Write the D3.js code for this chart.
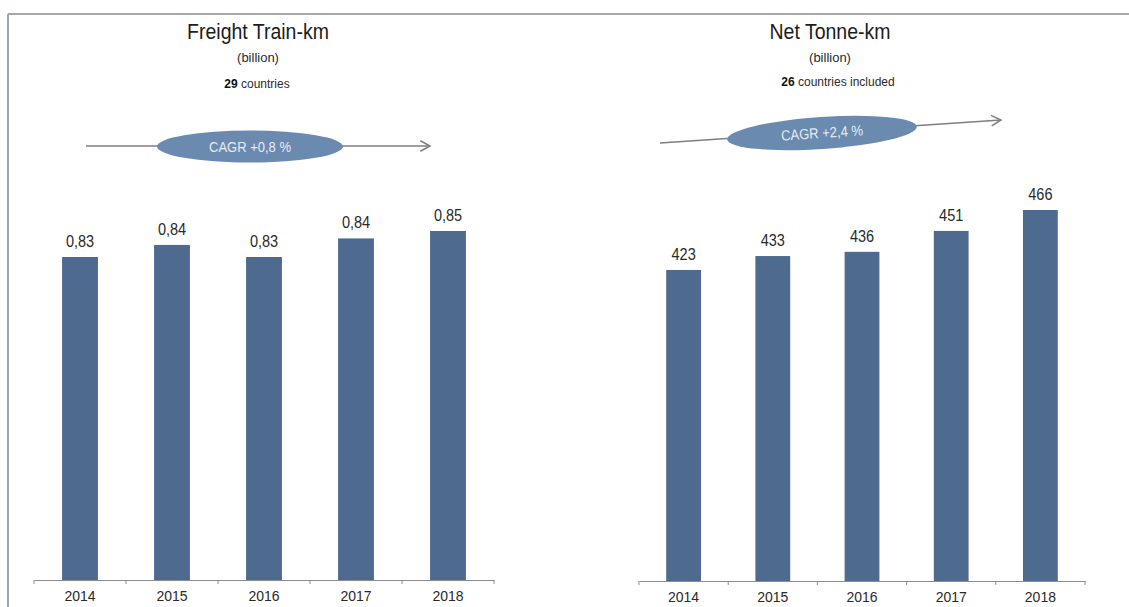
<!DOCTYPE html>
<html>
<head>
<meta charset="utf-8">
<script src="https://cdn.jsdelivr.net/npm/d3@7"></script>
<style>
  html, body { margin: 0; padding: 0; background: #ffffff; }
  svg { display: block; }
  text { font-family: "Liberation Sans", Arial, sans-serif; }
</style>
</head>
<body>
<svg id="chart" width="1129" height="607"></svg>
<script>
// Yearly freight figures, two panels
const years = ["2014", "2015", "2016", "2017", "2018"];
const trainKm = [0.834, 0.8405, 0.834, 0.844, 0.848];   // billion freight train-km
const tonneKm = [423, 433, 436, 451, 466];              // billion net tonne-km
const panelTitles = ["Freight Train-km", "Net Tonne-km"];
const panelUnits = ["(billion)", "(billion)"];
const countryCounts = ["29", "26"];
const countryNotes = [" countries", " countries included"];
const cagrLabels = ["CAGR +0,8 %", "CAGR +2,4 %"];

const svg = d3.select("#chart");
const BAR = "#4e6b8f";
const ELLIPSE = "#6b8ab0";
const AXIS = "#8c8c8c";
const TEXT = "#2a2a2a";
const STRETCH = 1.13;

const commaFmt = d3.formatLocale({ decimal: ",", thousands: ".", grouping: [3], currency: ["", ""] });
const fmt2 = commaFmt.format(".2f");
const fmt0 = commaFmt.format(".0f");

// text drawn slightly taller than wide, like the source typeface
function label(g, x, y, str, size, opts = {}) {
  const t = g.append("text")
    .attr("transform", `translate(${x},${y}) scale(1,${opts.stretch || STRETCH})`)
    .attr("text-anchor", opts.anchor || "middle")
    .attr("font-size", size)
    .attr("fill", opts.fill || TEXT)
    .attr("font-weight", opts.weight || "normal")
    .text(str);
  return t;
}

// frame lines
svg.append("line").attr("x1", 8).attr("x2", 1129).attr("y1", 14).attr("y2", 14)
  .attr("stroke", "#a3a7ae").attr("stroke-width", 2);
svg.append("line").attr("x1", 8).attr("x2", 8).attr("y1", 14).attr("y2", 607)
  .attr("stroke", "#97a5bb").attr("stroke-width", 2);

function panel(cfg) {
  const g = svg.append("g");
  const x = d3.scaleBand().domain(years).range(cfg.xRange).padding(0);
  const y = d3.scaleLinear().domain([cfg.yMin, d3.max(cfg.values)]).range([cfg.base, cfg.topY]);
  const bw = x.bandwidth() * 0.39;

  // bars
  g.selectAll("rect.bar").data(cfg.values).join("rect")
    .attr("class", "bar")
    .attr("x", (d, i) => x(years[i]) + x.bandwidth() / 2 - bw / 2)
    .attr("y", d => y(d))
    .attr("width", bw)
    .attr("height", d => y(cfg.yMin) - y(d))
    .attr("fill", BAR);

  // value labels
  cfg.values.forEach((d, i) => {
    label(g, x(years[i]) + x.bandwidth() / 2, y(d) - 10, cfg.format(d), 14.5);
  });

  // category axis
  const axis = d3.axisBottom(x).tickSize(0).tickPadding(14).tickSizeOuter(0);
  const ax = g.append("g").attr("transform", `translate(0,${cfg.base})`).call(axis);
  ax.select(".domain").attr("stroke", AXIS).attr("stroke-width", 1.2);
  ax.selectAll(".tick text").remove();
  years.forEach(yr => {
    label(g, x(yr) + x.bandwidth() / 2, cfg.base + 21, yr, 14, { stretch: 1.04 });
  });
  // boundary tick marks between categories
  const bounds = years.map(yr => x(yr)).concat([x(years[years.length - 1]) + x.step()]);
  g.selectAll("line.bound").data(bounds).join("line")
    .attr("class", "bound")
    .attr("x1", d => d).attr("x2", d => d)
    .attr("y1", cfg.base).attr("y2", cfg.base + 4)
    .attr("stroke", AXIS).attr("stroke-width", 1);

  // headings
  label(g, cfg.titleX, 39, cfg.title, 19.5, { fill: "#1c1c1c", stretch: 1.15 });
  label(g, cfg.titleX, 62, cfg.unit, 13, { stretch: 1.0 });
  const note = g.append("text")
    .attr("transform", `translate(${cfg.noteX},${cfg.noteY})`)
    .attr("text-anchor", "middle")
    .attr("font-size", 12)
    .attr("fill", TEXT);
  note.append("tspan").attr("font-weight", "bold").attr("fill", "#111").text(cfg.count);
  note.append("tspan").text(cfg.note);

  // growth arrow with CAGR badge
  const a = cfg.arrow;
  const ang = Math.atan2(a.y2 - a.y1, a.x2 - a.x1);
  g.append("line").attr("x1", a.x1).attr("y1", a.y1).attr("x2", a.x2).attr("y2", a.y2)
    .attr("stroke", "#7d7f84").attr("stroke-width", 1.5);
  const hl = 11, hs = 0.5;
  const head = [
    [a.x2 - hl * Math.cos(ang - hs), a.y2 - hl * Math.sin(ang - hs)],
    [a.x2, a.y2],
    [a.x2 - hl * Math.cos(ang + hs), a.y2 - hl * Math.sin(ang + hs)]
  ];
  g.append("path").attr("d", d3.line()(head))
    .attr("fill", "none").attr("stroke", "#7d7f84").attr("stroke-width", 1.5);
  const deg = ang * 180 / Math.PI;
  const eg = g.append("g").attr("transform", `translate(${a.cx},${a.cy}) rotate(${deg})`);
  eg.append("ellipse").attr("cx", 0).attr("cy", 0).attr("rx", a.rx).attr("ry", 16)
    .attr("fill", ELLIPSE);
  label(eg, 0, 5, cfg.cagr, 13, { fill: "#e6ecf3" });
}

panel({
  values: trainKm, format: fmt2, yMin: 0.66,
  xRange: [34, 494], base: 580, topY: 231,
  title: panelTitles[0], unit: panelUnits[0], titleX: 258,
  count: countryCounts[0], note: countryNotes[0], noteX: 257, noteY: 88,
  cagr: cagrLabels[0],
  arrow: { x1: 86, y1: 146, x2: 430, y2: 146, cx: 250, cy: 146.5, rx: 93 }
});

panel({
  values: tonneKm, format: fmt0, yMin: 200,
  xRange: [639, 1085], base: 581, topY: 210,
  title: panelTitles[1], unit: panelUnits[1], titleX: 830,
  count: countryCounts[1], note: countryNotes[1], noteX: 838, noteY: 86,
  cagr: cagrLabels[1],
  arrow: { x1: 660, y1: 143, x2: 1001, y2: 120, cx: 822, cy: 133, rx: 95 }
});
</script>
</body>
</html>
